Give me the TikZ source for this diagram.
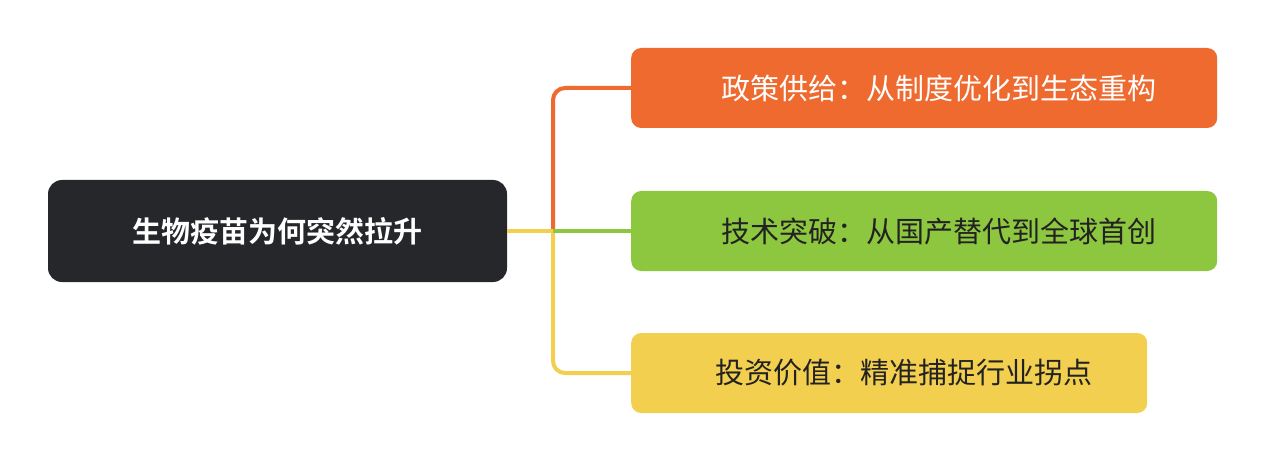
\documentclass[tikz,border=0pt]{standalone}
\usepackage{fontspec}
\setmainfont{Noto Sans CJK SC}
\newfontfamily\cjkb{Noto Sans CJK SC Bold}
\definecolor{cdark}{HTML}{26272B}
\definecolor{corange}{HTML}{EE6A2F}
\definecolor{cgreen}{HTML}{8DC63F}
\definecolor{cyellow}{HTML}{F2CF4F}
\definecolor{ctext}{HTML}{222222}
\begin{document}
\begin{tikzpicture}[x=1pt,y=-1pt,
  branch/.style={rounded corners=10pt,minimum height=80pt,anchor=west,inner xsep=0pt,font=\fontsize{29}{34}\selectfont},
  link/.style={line width=4pt,rounded corners=12pt}]
\useasboundingbox (0,0) rectangle (1265,462);
\node[fill=cdark,rounded corners=14pt,minimum width=459pt,minimum height=102pt,text=white,font=\cjkb\fontsize{29}{34}\selectfont] (root) at (277.5,231) {生物疫苗为何突然拉升};
\node[branch,fill=corange,text=white,minimum width=586pt] (b1) at (631,88) {\hspace*{30pt}政策供给：从制度优化到生态重构\hfill};
\node[branch,fill=cgreen,text=ctext,minimum width=586pt] (b2) at (631,231) {\hspace*{30pt}技术突破：从国产替代到全球首创\hfill};
\node[branch,fill=cyellow,text=ctext,minimum width=516pt] (b3) at (631,373) {\hspace*{30pt}投资价值：精准捕捉行业拐点\hfill};
\coordinate (j) at (553,231);
\draw[link,corange] (j) |- (b1.west);
\draw[link,cyellow] (j) |- (b3.west);
\draw[link,cyellow] (root.east) -- (j);
\draw[link,cgreen] (j) -- (b2.west);
\end{tikzpicture}
\end{document}
